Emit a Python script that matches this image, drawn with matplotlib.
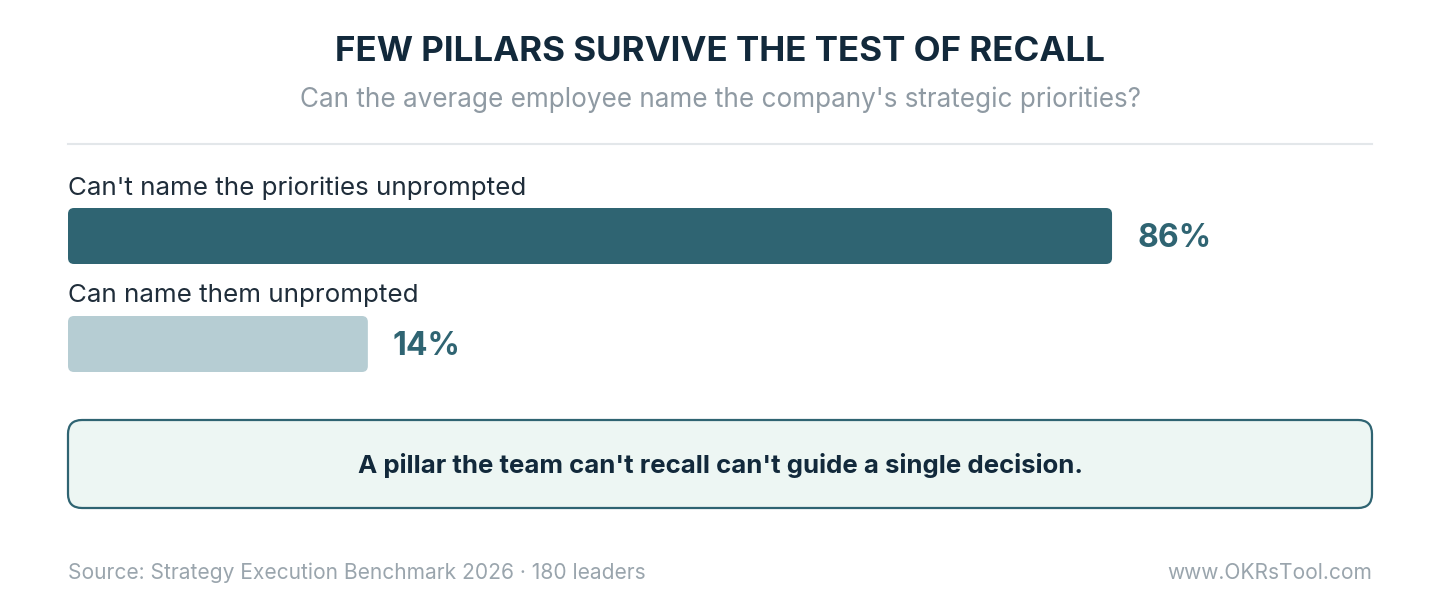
import matplotlib
matplotlib.use("Agg")
import matplotlib.pyplot as plt
from matplotlib.patches import FancyBboxPatch
from matplotlib.lines import Line2D

# ---- data ----
categories = ["Can't name the priorities unprompted", "Can name them unprompted"]
values = [86, 14]
value_labels = ["86%", "14%"]
bar_colors = ["#2f6472", "#b6cdd3"]
title = "FEW PILLARS SURVIVE THE TEST OF RECALL"
subtitle = "Can the average employee name the company's strategic priorities?"
callout = "A pillar the team can't recall can't guide a single decision."
source = "Source: Strategy Execution Benchmark 2026 \u00b7 180 leaders"
site = "www.OKRsTool.com"

plt.rcParams['font.family'] = ['Inter', 'DejaVu Sans']

W, H = 1440, 600
fig = plt.figure(figsize=(W / 100, H / 100), dpi=100)
fig.patch.set_facecolor("white")

# full-figure overlay axes in pixel coordinates (top-left origin)
bg = fig.add_axes([0, 0, 1, 1])
bg.set_xlim(0, W)
bg.set_ylim(H, 0)
bg.axis("off")

DARK = "#12293b"
GRAY = "#8f9aa3"
TEAL = "#2f6472"

bg.text(720, 52, title, ha="center", va="center", fontsize=25.2, fontweight="bold", color=DARK)
bg.text(720, 100, subtitle, ha="center", va="center", fontsize=18.8, color=GRAY)
bg.add_line(Line2D([68, 1372], [144, 144], color="#e3e7ea", lw=1.5))

# ---- bar axes ----
left_px, track_px = 68, 1214   # 100% spans track_px
top_px, bot_px = 160, 390
ax = fig.add_axes([left_px / W, 1 - bot_px / H, track_px / W, (bot_px - top_px) / H])
ax.set_xlim(0, 100)
ax.set_ylim(bot_px, top_px)
ax.axis("off")
ax.set_zorder(2)

px_per_unit = track_px / 100.0
row0, row_step, bar_h = 236, 108, 56
min_display = 24.7   # reference draws small bars with a minimum visual width
radius_px = 6
for i, (cat, v, lab, col) in enumerate(zip(categories, values, value_labels, bar_colors)):
    yc = row0 + i * row_step
    w = max(v, min_display)
    r = radius_px / px_per_unit
    p = FancyBboxPatch((0, yc - bar_h / 2), w, bar_h,
                       boxstyle=f"round,pad=0,rounding_size={r}",
                       mutation_aspect=px_per_unit, facecolor=col, edgecolor="none")
    ax.add_patch(p)
    ax.text(0, yc - bar_h / 2 - 20, cat, ha="left", va="center", fontsize=18.7, color="#1f2d3a")
    ax.text(w + 25 / px_per_unit, yc + 3, lab, ha="left", va="center", fontsize=23,
            fontweight="bold", color=TEAL)

# ---- callout box ----
box = FancyBboxPatch((68, 420), 1304, 88, boxstyle="round,pad=0,rounding_size=14",
                     facecolor="#edf6f3", edgecolor=TEAL, lw=1.6)
bg.add_patch(box)
bg.text(720, 465, callout, ha="center", va="center", fontsize=18.6, fontweight="bold", color=DARK)

# ---- footer ----
bg.text(68, 573, source, ha="left", va="center", fontsize=15.1, color="#9aa5ad")
bg.text(1372, 573, site, ha="right", va="center", fontsize=15.1, color="#9aa5ad")

fig.savefig("out.png", dpi=100, facecolor="white")
